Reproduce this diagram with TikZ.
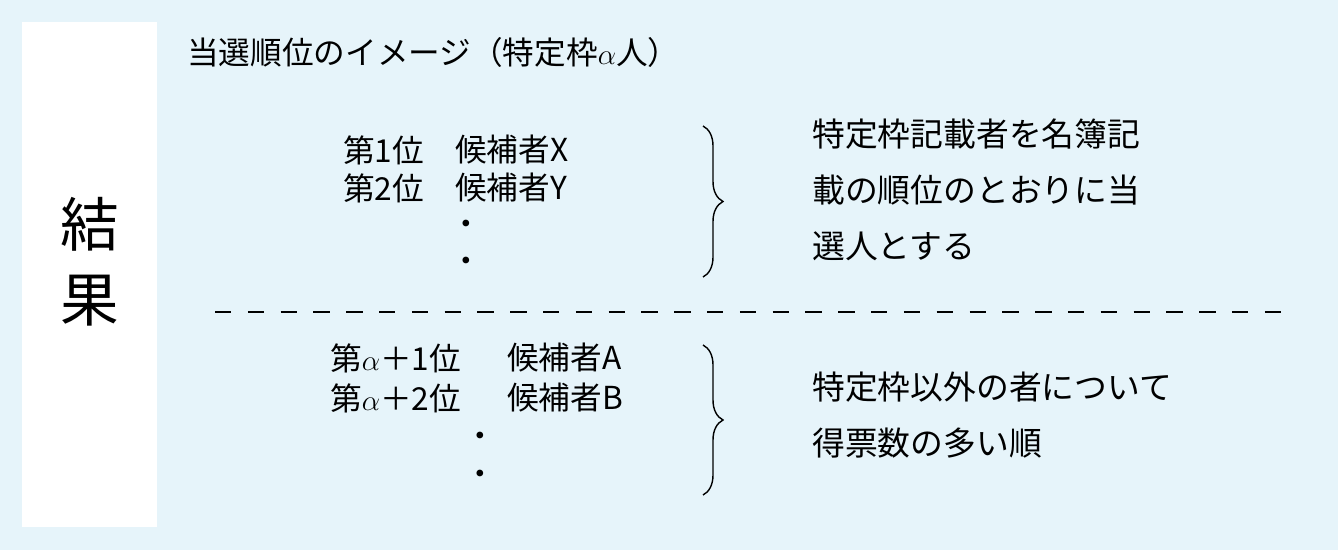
\documentclass[tikz,border=0pt]{standalone}
\usepackage{fontspec}
\setmainfont{Noto Sans CJK JP}
\usetikzlibrary{positioning,decorations.pathreplacing}
\definecolor{bgblue}{HTML}{E6F4FA}
\tikzset{
  txt/.style={anchor=west, inner sep=0pt, font=\fontsize{27}{34}\selectfont},
  note/.style={anchor=west, inner sep=0pt, align=left, font=\fontsize{28}{48}\selectfont},
  curly/.style={decorate, decoration={brace, amplitude=0.6cm}, line width=1.2pt}
}
\begin{document}
\begin{tikzpicture}[x=0.03cm, y=-0.03cm]
    % Background
    \fill[bgblue] (0,0) rectangle (1338,550);
    \useasboundingbox (0,0) rectangle (1338,550);
    \fill[white] (22,22) rectangle (157,527);
    \node[align=center, inner sep=0pt, font=\fontsize{50}{64}\selectfont] (result) at (90,262) {結\\果};

    % Title
    \node[txt] (title) at (187,52) {当選順位のイメージ（特定枠$\alpha$人）};

    % Upper ranks
    \node[txt] (r1) at (343,150) {第1位};
    \node[txt] (c1) at (455,150) {候補者X};
    \node[txt] (r2) at (343,188) {第2位};
    \node[txt] (c2) at (455,188) {候補者Y};
    \node[txt] (d1) at (450,228) {・};
    \node[txt] (d2) at (450,265) {・};
    \coordinate (b1t) at (703,126);
    \coordinate (b1b) at (703,277);
    \draw[curly] (b1t) -- (b1b);
    \node[note] (n1) at (812,190) {特定枠記載者を名簿記\\載の順位のとおりに当\\選人とする};

    % Separator
    \coordinate (sepl) at (215,312);
    \coordinate (sepr) at (1290,312);
    \draw[dashed, dash pattern=on 14pt off 14pt, line width=1pt] (sepl) -- (sepr);

    % Lower ranks
    \node[txt] (r3) at (330,358) {第$\alpha$＋1位};
    \node[txt] (c3) at (507,358) {候補者A};
    \node[txt] (r4) at (330,398) {第$\alpha$＋2位};
    \node[txt] (c4) at (507,398) {候補者B};
    \node[txt] (d3) at (464,440) {・};
    \node[txt] (d4) at (464,478) {・};
    \coordinate (b2t) at (703,345);
    \coordinate (b2b) at (703,495);
    \draw[curly] (b2t) -- (b2b);
    \node[note] (n2) at (812,415) {特定枠以外の者について\\得票数の多い順};
\end{tikzpicture}
\end{document}
